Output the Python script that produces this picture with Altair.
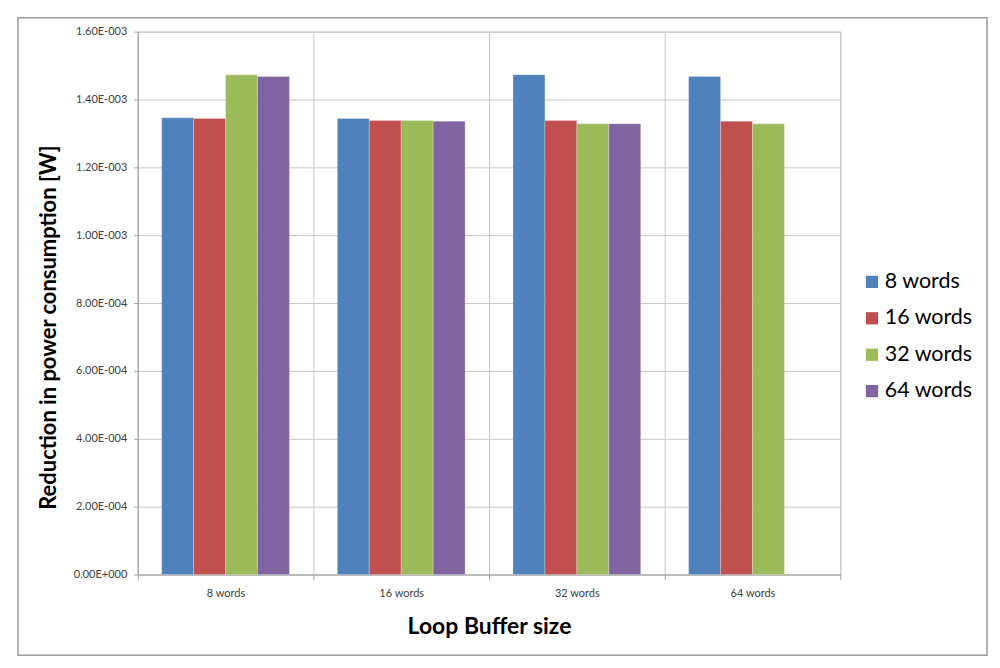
import altair as alt
import pandas as pd

groups = ["8 words", "16 words", "32 words", "64 words"]
series = ["8 words", "16 words", "32 words", "64 words"]
colors = ["#4F81BD", "#C0504D", "#9BBB59", "#8064A2"]

# values per series, across the four loop-buffer-size groups (None = no bar)
s_8 = [1.346e-3, 1.344e-3, 1.4726e-3, 1.4676e-3]
s_16 = [1.344e-3, 1.338e-3, 1.338e-3, 1.336e-3]
s_32 = [1.4726e-3, 1.338e-3, 1.3285e-3, 1.3285e-3]
s_64 = [1.4676e-3, 1.336e-3, 1.3285e-3, None]

y_ticks = [0, 0.0002, 0.0004, 0.0006, 0.0008, 0.0010, 0.0012, 0.0014, 0.0016]

rows = []
for name, vals in zip(series, [s_8, s_16, s_32, s_64]):
    for g, v in zip(groups, vals):
        if v is not None:
            rows.append({"group": g, "series": name, "value": v})
df = pd.DataFrame(rows)

FONT = "Lato"
GRID = "#c6c6c6"
AX = "#a0a0a0"

bars = alt.Chart(df).mark_bar(stroke="#ffffff", strokeOpacity=0.3, strokeWidth=0.8).encode(
    x=alt.X(
        "group:N",
        sort=groups,
        scale=alt.Scale(domain=groups, paddingInner=0, paddingOuter=0),
        axis=alt.Axis(
            title="Loop Buffer size",
            tickBand="extent",
            labelAngle=0,
            labelFontSize=11,
            labelColor="#404040",
            labelFont=FONT,
            labelPadding=8,
            tickSize=5,
            tickColor=AX,
            domainColor=AX,
            gridColor=GRID,
            grid=True,
            titleFont=FONT,
            titleFontSize=23,
            titleFontWeight="bold",
            titleColor="#000000",
            titlePadding=17,
        ),
    ),
    xOffset=alt.XOffset(
        "series:N",
        sort=series,
        scale=alt.Scale(domain=series, paddingInner=0, paddingOuter=0.75),
    ),
    y=alt.Y(
        "value:Q",
        scale=alt.Scale(domain=[0, 0.0016], nice=False, zero=True),
        axis=alt.Axis(
            title="Reduction in power consumption [W]",
            values=y_ticks,
            labelExpr="replace(replace(format(datum.value, '.2e'), 'e-', 'E-00'), 'e+', 'E+00')",
            labelFontSize=11,
            labelColor="#404040",
            labelFont=FONT,
            labelPadding=7,
            tickSize=4,
            tickColor=AX,
            domainColor=AX,
            gridColor=GRID,
            titleFont=FONT,
            titleFontSize=22,
            titleFontWeight="bold",
            titleColor="#000000",
            titlePadding=13,
            titleY=296,
        ),
    ),
    color=alt.Color(
        "series:N",
        sort=series,
        scale=alt.Scale(domain=series, range=colors),
        legend=alt.Legend(
            title=None,
            orient="none",
            legendX=725,
            legendY=240,
            symbolType="square",
            symbolSize=150,
            symbolStrokeWidth=0,
            labelFontSize=21.5,
            labelFont=FONT,
            labelColor="#000000",
            labelOffset=2,
            rowPadding=13.5,
            padding=0,
        ),
    ),
)

border = alt.Chart(pd.DataFrame({"k": [0]})).mark_rect(
    fillOpacity=0, stroke="#9a9a9a", strokeWidth=1.5
).encode(
    x=alt.value(-120), x2=alt.value(851), y=alt.value(-14), y2=alt.value(625)
)

chart = alt.layer(border, bars).properties(
    width=704,
    height=544,
    padding={"left": 9, "top": 8, "right": 4, "bottom": 4},
    background="#ffffff",
).configure_view(stroke=GRID)

chart.save("out.html", embed_options={"renderer": "svg", "actions": False})
